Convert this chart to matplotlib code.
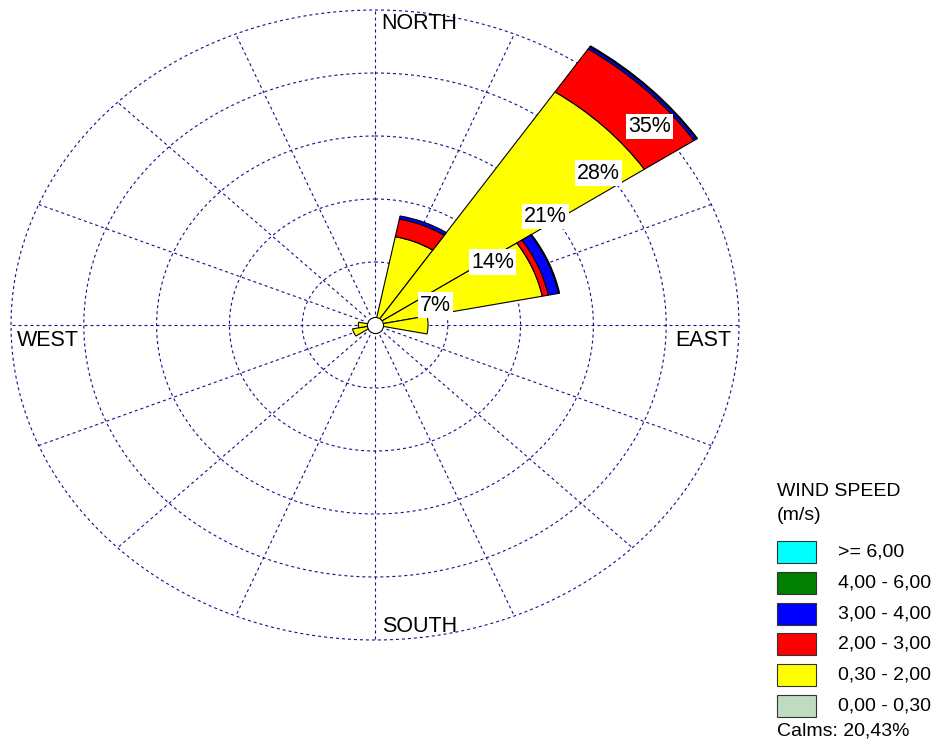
import numpy as np
import matplotlib
matplotlib.use('Agg')
from matplotlib import pyplot as plt
from matplotlib.patches import Rectangle

plt.rcParams['font.family'] = ['Liberation Sans', 'DejaVu Sans']

# 16 direction sectors, clockwise from north
directions = ['N', 'NNE', 'NE', 'ENE', 'E', 'ESE', 'SE', 'SSE',
              'S', 'SSW', 'SW', 'WSW', 'W', 'WNW', 'NW', 'NNW']
# frequency (%) per speed class
spd_00_03 = [0, 0, 0, 0, 0, 0, 0, 0, 0, 0, 0, 0, 0, 0, 0, 0]
spd_03_20 = [0, 10.0, 31.15, 16.4, 5.1, 0, 0, 0, 0, 0, 0, 2.2, 1.6, 0, 0, 0]
spd_20_30 = [0, 2.0, 5.75, 0.6, 0, 0, 0, 0, 0, 0, 0, 0, 0, 0, 0, 0]
spd_30_40 = [0, 0.35, 0.3, 1.0, 0, 0, 0, 0, 0, 0, 0, 0, 0, 0, 0, 0]
spd_40_60 = [0, 0, 0.1, 0.1, 0, 0, 0, 0, 0, 0, 0, 0, 0, 0, 0, 0]
spd_60_up = [0, 0, 0, 0, 0, 0, 0, 0, 0, 0, 0, 0, 0, 0, 0, 0]

classes = [spd_00_03, spd_03_20, spd_20_30, spd_30_40, spd_40_60, spd_60_up]
class_colors = ['#c0dcc0', '#ffff00', '#ff0000', '#0000ff', '#007f00', '#00ffff']
legend_labels = ['>= 6,00', '4,00 - 6,00', '3,00 - 4,00', '2,00 - 3,00', '0,30 - 2,00', '0,00 - 0,30']
legend_colors = ['#00ffff', '#007f00', '#0000ff', '#ff0000', '#ffff00', '#c0dcc0']
calms = '20,43%'

rings = [7, 14, 21, 28, 35]
ring_labels = ['7%', '14%', '21%', '28%', '35%']
ring_label_theta = [69, 58.3, 53.7, 51.8, 50.2]
ring_label_r = [6.2, 13.3, 20.3, 27.3, 34.4]

W, H = 936, 749
fig = plt.figure(figsize=(W / 100, H / 100), dpi=100)


def fx(x):
    return x / W


def fy(y):
    return 1 - y / H


ax = fig.add_axes([fx(11), fy(640), 728 / W, 630 / H], projection='polar')
ax.set_aspect('auto')
ax.set_theta_zero_location('N')
ax.set_theta_direction(-1)
ax.set_ylim(0, 35)
ax.set_xticks([])
ax.set_yticks([])
ax.grid(False)
ax.spines['polar'].set_visible(False)

grid_kw = dict(color='#10108a', lw=0.8, ls=(0, (2.7, 2.7)), zorder=1, clip_on=False)
tt = np.linspace(0, 2 * np.pi, 721)
for r in rings:
    ax.plot(tt, np.full_like(tt, r), **grid_kw)
for k in range(16):
    a = np.deg2rad(k * 22.5)
    ax.plot([a, a], [1.2, 35], **grid_kw)

theta = np.deg2rad(np.arange(16) * 22.5)
width = np.deg2rad(22.5)
bottom = np.zeros(16)
for vals, col in zip(classes, class_colors):
    vals = np.array(vals, dtype=float)
    m = vals > 0
    if m.any():
        bars = ax.bar(theta[m], vals[m], width=width, bottom=bottom[m], color=col,
                      edgecolor='black', linewidth=0.8, zorder=3)
        for b in bars:
            b.set_clip_on(False)
    bottom += vals

ax.scatter([0], [0], s=135, c='white', edgecolors='black', linewidths=0.8, zorder=6)

for lab, th, r in zip(ring_labels, ring_label_theta, ring_label_r):
    ax.text(np.deg2rad(th), r, lab, fontsize=15.5, ha='center', va='center', zorder=7,
            bbox=dict(facecolor='white', edgecolor='none', pad=1.5))

ax.text(0.508, 0.979, 'NORTH', transform=ax.transAxes, fontsize=15.5, ha='left', va='center')
ax.text(0.989, 0.476, 'EAST', transform=ax.transAxes, fontsize=15.5, ha='right', va='center')
ax.text(0.008, 0.476, 'WEST', transform=ax.transAxes, fontsize=15.5, ha='left', va='center')
ax.text(0.510, 0.021, 'SOUTH', transform=ax.transAxes, fontsize=15.5, ha='left', va='center')

# legend
fig.text(fx(777), fy(491), 'WIND SPEED', fontsize=14, ha='left', va='center')
fig.text(fx(777), fy(516), '(m/s)', fontsize=14, ha='left', va='center')
for i, (lab, col) in enumerate(zip(legend_labels, legend_colors)):
    top = 541 + i * 30.8
    fig.patches.append(Rectangle((fx(777), fy(top + 22)), 39 / W, 22 / H, facecolor=col,
                                 edgecolor='#333333', linewidth=0.8, transform=fig.transFigure))
    fig.text(fx(838), fy(top + 11), lab, fontsize=14, ha='left', va='center')
fig.text(fx(777), fy(731), 'Calms: ' + calms, fontsize=14, ha='left', va='center')

fig.savefig('out.png', dpi=100)
